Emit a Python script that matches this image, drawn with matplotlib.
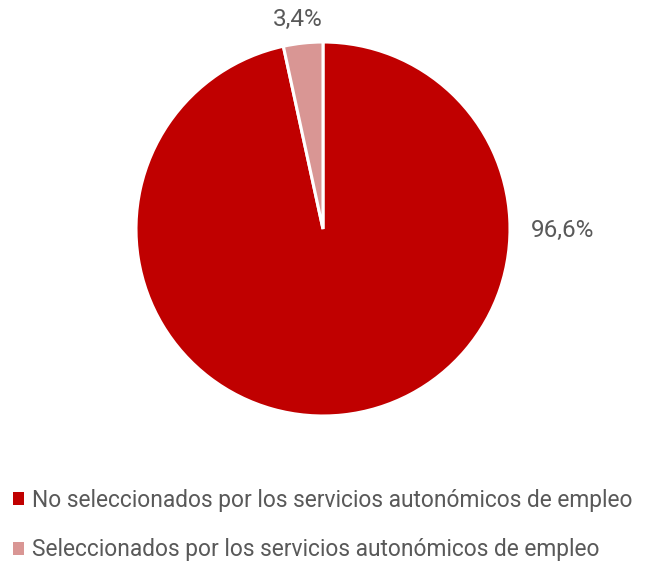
import matplotlib.pyplot as plt
from matplotlib.patches import Patch

labels = ['No seleccionados por los servicios autonómicos de empleo',
          'Seleccionados por los servicios autonómicos de empleo']
values = [96.6, 3.4]
colors = ['#C00000', '#D99694']

plt.rcParams['font.family'] = ['Roboto', 'DejaVu Sans']
txt_color = '#595959'

fig = plt.figure(figsize=(6.47, 5.61), dpi=100)
W, H = 647, 561
cx, cy, r = 323, 332, 187
ax = fig.add_axes([(cx - r) / W, (cy - r) / H, 2 * r / W, 2 * r / H])
ax.pie(values, colors=colors, startangle=90, counterclock=False,
       wedgeprops=dict(edgecolor='white', linewidth=2.2))
ax.set_xlim(-1, 1)
ax.set_ylim(-1, 1)
ax.set_aspect('equal')

fmt = lambda v: f'{v:.1f}'.replace('.', ',') + '%'
ax.text(1.28, -0.01, fmt(values[0]), ha='center', va='center', fontsize=17.5, color=txt_color)
ax.text(-0.135, 1.12, fmt(values[1]), ha='center', va='center', fontsize=17.5, color=txt_color)

handles = [Patch(facecolor=c, edgecolor='none') for c in colors]
fig.legend(handles, labels, loc='center left', bbox_to_anchor=(0.02, (561 - 525) / 561),
           frameon=False, fontsize=16.4, labelcolor=txt_color,
           handlelength=0.5, handleheight=0.5, handletextpad=0.35,
           labelspacing=1.15, borderaxespad=0, borderpad=0)

fig.savefig('out.png', dpi=100)
